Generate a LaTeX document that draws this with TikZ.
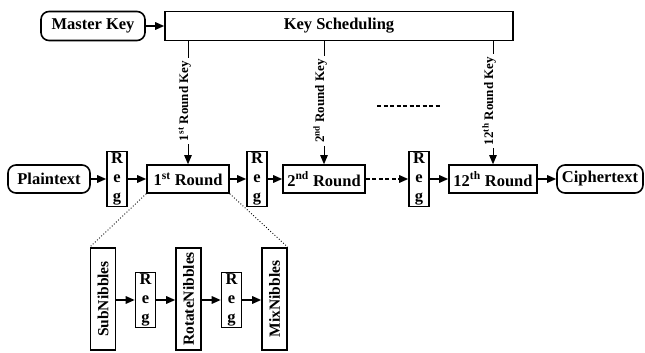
\documentclass[tikz,border=0pt]{standalone}
\usepackage{graphicx}
\usepackage{fontspec}
\setmainfont{Liberation Serif}
\usetikzlibrary{arrows.meta}

\tikzset{
  blk/.style={draw, line width=1.6pt, font=\fontsize{16.5}{19}\selectfont\bfseries,
    inner sep=2pt, minimum height=28pt},
  term/.style={blk, rounded corners=8pt},
  regbox/.style={blk, align=center, minimum width=20pt, minimum height=55pt, inner sep=0.5pt},
  vbox/.style={blk, minimum width=25pt, minimum height=102pt,
    font=\fontsize{15.5}{18}\selectfont\bfseries},
  keylbl/.style={rotate=90, anchor=base, inner sep=3pt,
    font=\fontsize{13}{15}\selectfont\bfseries},
  flow/.style={-{Triangle[length=9pt,width=7.5pt]}, line width=1.6pt},
  keyline/.style={line width=0.9pt},
}

\begin{document}
\begin{tikzpicture}[x=1pt, y=1pt]
  \useasboundingbox (0,0) rectangle (645,353);

  % key schedule
  \node[term, minimum width=104pt, minimum height=29pt] (mk) at (93,327) {Master Key};
  \node[blk, minimum width=348pt, minimum height=29pt] (ks) at (339,327) {Key Scheduling};
  \draw[flow] (mk) -- (ks);

  % main datapath
  \node[term, minimum width=82pt] (pt) at (49,174) {Plaintext};
  \node[regbox] (reg1) at (117,174) {R\\e\\g};
  \node[blk, minimum width=82pt] (r1) at (188,174) {1\textsuperscript{st} Round};
  \node[regbox] (reg2) at (257,174) {R\\e\\g};
  \node[blk, minimum width=82pt] (r2) at (324,174) {2\textsuperscript{nd} Round};
  \node[regbox] (reg3) at (419,174) {R\\e\\g};
  \node[blk, minimum width=88pt] (r12) at (493,174) {12\textsuperscript{th} Round};
  \node[term, minimum width=86pt] (ct) at (600,174) {Ciphertext};

  \draw[flow] (pt) -- (reg1);
  \draw[flow] (reg1) -- (r1);
  \draw[flow] (r1) -- (reg2);
  \draw[flow] (reg2) -- (r2);
  \draw[flow, dash pattern=on 4pt off 2.5pt] (r2) -- (reg3);
  \draw[flow] (reg3) -- (r12);
  \draw[flow] (r12) -- (ct);

  % round keys
  \foreach \r/\n/\s in {r1/1/st, r2/2/nd, r12/12/th} {
    \node[keylbl] (k\n) at (\r.north |- 0,252) {\n\textsuperscript{\s} Round Key};
    \draw[keyline] (\r.north |- ks.south) -- (\r.north |- k\n.east);
    \draw[keyline, -{Triangle[length=9pt,width=7.5pt]}] (\r.north |- k\n.west) -- (\r.north);
  }
  \draw[line width=1.3pt, dash pattern=on 4pt off 2.5pt] (377,247) -- (440,247);

  % inside one round
  \node[vbox] (sub) at (103,54) {\rotatebox{90}{SubNibbles}};
  \node[regbox] (reg4) at (145.5,53) {R\\e\\g};
  \node[vbox] (rot) at (188.5,54) {\rotatebox{90}{RotateNibbles}};
  \node[regbox] (reg5) at (231.5,53) {R\\e\\g};
  \node[vbox] (mix) at (274.5,54) {\rotatebox{90}{MixNibbles}};

  \draw[flow] (sub.east |- reg4) -- (reg4);
  \draw[flow] (reg4) -- (rot.west |- reg4);
  \draw[flow] (rot.east |- reg5) -- (reg5);
  \draw[flow] (reg5) -- (mix.west |- reg5);

  \draw[dotted, line width=0.9pt] (r1.south west) -- (sub.north west);
  \draw[dotted, line width=0.9pt] (r1.south east) -- (mix.north east);
\end{tikzpicture}
\end{document}
